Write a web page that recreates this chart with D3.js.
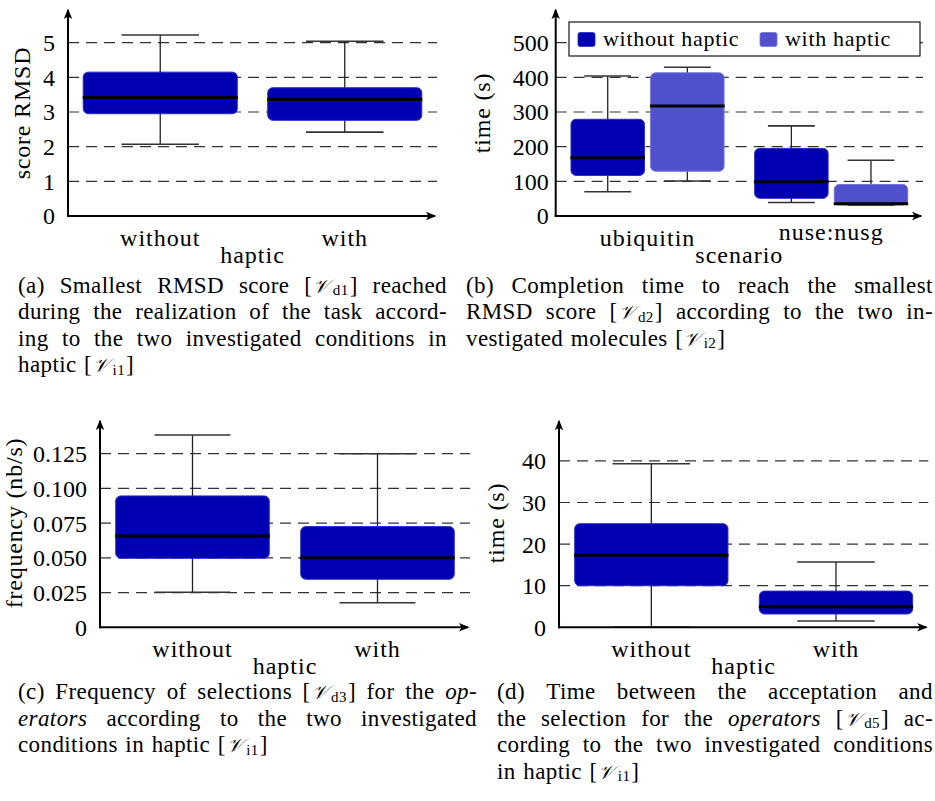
<!DOCTYPE html>
<html><head><meta charset="utf-8">
<script src="https://cdn.jsdelivr.net/npm/d3@7"></script>
<style>
body{margin:0;background:#fff;}
</style></head><body>
<svg id="c" width="935" height="801" font-family="'Liberation Serif', 'DejaVu Serif', 'Noto Serif', serif"></svg>
<script>
// ---------------- DATA ----------------
// (a) Smallest RMSD score
const hapticCats = ["without", "with"];
const rmsdLow  = [2.07, 2.42];
const rmsdQ1   = [2.95, 2.76];
const rmsdMed  = [3.42, 3.36];
const rmsdQ3   = [4.15, 3.70];
const rmsdHigh = [5.22, 5.04];
const rmsdTicks = [0, 1, 2, 3, 4, 5];
const rmsdTickLabels = ["0", "1", "2", "3", "4", "5"];

// (b) Completion time per scenario
const scenarioCats = ["ubiquitin", "nuse:nusg"];
const seriesNames = ["without haptic", "with haptic"];
const timeWithoutLow  = [70, 39];
const timeWithoutQ1   = [117, 51];
const timeWithoutMed  = [168, 99];
const timeWithoutQ3   = [279, 195];
const timeWithoutHigh = [404, 260];
const timeWithLow  = [101, 31];
const timeWithQ1   = [129, 32];
const timeWithMed  = [317, 35];
const timeWithQ3   = [413, 91];
const timeWithHigh = [429, 161];
const timeTicks = [0, 100, 200, 300, 400, 500];
const timeTickLabels = ["0", "100", "200", "300", "400", "500"];

// (c) Frequency of selections
const freqLow  = [0.0252, 0.0177];
const freqQ1   = [0.0497, 0.0346];
const freqMed  = [0.0658, 0.0501];
const freqQ3   = [0.0946, 0.0725];
const freqHigh = [0.1385, 0.125];
const freqTicks = [0, 0.025, 0.05, 0.075, 0.1, 0.125];
const freqTickLabels = ["0", "0.025", "0.050", "0.075", "0.100", "0.125"];

// (d) Time between acceptation and selection
const selLow  = [0, 1.5];
const selQ1   = [10.0, 3.2];
const selMed  = [17.3, 4.95];
const selQ3   = [24.9, 8.7];
const selHigh = [39.3, 15.7];
const selTicks = [0, 10, 20, 30, 40];
const selTickLabels = ["0", "10", "20", "30", "40"];

// captions
const capA = ["(a) Smallest RMSD score [𝒱_{d1}] reached", "during the realization of the task accord-", "ing to the two investigated conditions in", "haptic [𝒱_{i1}]"];
const capB = ["(b) Completion time to reach the smallest", "RMSD score [𝒱_{d2}] according to the two in-", "vestigated molecules [𝒱_{i2}]"];
const capC = ["(c) Frequency of selections [𝒱_{d3}] for the *op-*", "*erators* according to the two investigated", "conditions in haptic [𝒱_{i1}]"];
const capD = ["(d) Time between the acceptation and", "the selection for the *operators* [𝒱_{d5}] ac-", "cording to the two investigated conditions", "in haptic [𝒱_{i1}]"];

// ---------------- STYLE ----------------
const SERIF = "'Liberation Serif', 'DejaVu Serif', 'Noto Serif', serif";
const DARK = "#0000B3", DARK_EDGE = "#2a2ac8";
const LIGHT = "#5050CD", LIGHT_EDGE = "#7474dc";

const svg = d3.select("#c");
const defs = svg.append("defs");
defs.append("marker").attr("id", "arr")
  .attr("viewBox", "-12 -6 14 12").attr("refX", 0).attr("refY", 0)
  .attr("markerWidth", 14).attr("markerHeight", 12)
  .attr("markerUnits", "userSpaceOnUse").attr("orient", "auto")
  .append("path").attr("d", "M1.5,0 L-9,-4.2 L-6.5,0 L-9,4.2 Z").attr("fill", "#000");

function txt(sel) { return sel.append("text").attr("font-family", SERIF).attr("fill", "#000"); }

function drawPanel(p) {
  const g = svg.append("g");
  const y = d3.scaleLinear().domain([0, p.ymax]).range([p.yb, p.yt]);
  const x = d3.scaleBand().domain(p.cats).range([p.x0, p.x1]);
  const bw = x.bandwidth();
  const off = d3.scaleBand().domain(p.series.map(s => s.name))
    .range([-bw * p.groupSpan / 2, bw * p.groupSpan / 2]);

  // grid
  g.selectAll(".grid").data(p.ticks.filter(t => t > 0)).join("line")
    .attr("x1", p.x0).attr("x2", p.x1)
    .attr("y1", d => y(d)).attr("y2", d => y(d))
    .attr("stroke", "#333").attr("stroke-width", 1.2).attr("stroke-dasharray", "11,7");

  // tick labels
  g.selectAll(".tl").data(p.ticks).join("text")
    .attr("font-family", SERIF)
    .attr("x", p.x0 - p.tickGap).attr("y", d => y(d)).attr("dy", "0.35em")
    .attr("text-anchor", "end").style("font-size", "24px")
    .text((d, i) => p.tickLabels[i]);

  p.series.forEach(s => {
    const sg = g.append("g");
    const cxs = p.cats.map(c => x(c) + bw / 2 + off(s.name) + off.bandwidth() / 2);
    const boxW = bw * p.boxFrac, capW = bw * p.capFrac;
    p.cats.forEach((c, i) => {
      const cx = cxs[i];
      sg.append("line").attr("x1", cx).attr("x2", cx)
        .attr("y1", y(s.low[i])).attr("y2", y(s.high[i]))
        .attr("stroke", "#222").attr("stroke-width", 1.3);
      [s.low[i], s.high[i]].forEach(v => {
        sg.append("line").attr("x1", cx - capW / 2).attr("x2", cx + capW / 2)
          .attr("y1", y(v)).attr("y2", y(v))
          .attr("stroke", "#333").attr("stroke-width", 1.6);
      });
    });
    p.cats.forEach((c, i) => {
      const cx = cxs[i];
      sg.append("rect").attr("x", cx - boxW / 2).attr("y", y(s.q3[i]))
        .attr("width", boxW).attr("height", y(s.q1[i]) - y(s.q3[i]))
        .attr("rx", 5).attr("fill", s.color).attr("stroke", s.edge).attr("stroke-width", 1);
      sg.append("line").attr("x1", cx - boxW / 2 - 0.5).attr("x2", cx + boxW / 2 + 0.5)
        .attr("y1", y(s.med[i])).attr("y2", y(s.med[i]))
        .attr("stroke", "#000").attr("stroke-width", 3);
    });
  });

  // axes
  g.append("line").attr("x1", p.x0).attr("x2", p.x0).attr("y1", p.yb + 1).attr("y2", p.yt + 2)
    .attr("stroke", "#000").attr("stroke-width", 2).attr("marker-end", "url(#arr)");
  g.append("line").attr("x1", p.x0 - 1).attr("x2", p.x1 - 2).attr("y1", p.yb).attr("y2", p.yb)
    .attr("stroke", "#000").attr("stroke-width", 2).attr("marker-end", "url(#arr)");

  // category labels (top-aligned like TeX boxes)
  p.cats.forEach(c => {
    const asc = /[A-Zbdfhiklt0-9]/.test(c);
    txt(g).attr("x", x(c) + bw / 2).attr("y", p.yb + (asc ? 30 : 23.5))
      .attr("text-anchor", "middle").style("font-size", "24px").style("letter-spacing", "1px")
      .text(c);
  });
  txt(g).attr("x", (p.x0 + p.x1) / 2).attr("y", p.yb + 46.5)
    .attr("text-anchor", "middle").style("font-size", "24px").style("letter-spacing", "1px")
    .text(p.xlabel);
  txt(g).attr("transform", `translate(${p.ylx},${p.yly}) rotate(-90)`)
    .attr("text-anchor", "middle").attr("dominant-baseline", "central")
    .style("font-size", "24px").style("letter-spacing", "0.8px")
    .text(p.ylabel);
  return {g, x, y};
}

// (a)
drawPanel({
  cats: hapticCats, ticks: rmsdTicks, tickLabels: rmsdTickLabels, ymax: 6,
  x0: 68, x1: 437, yb: 216, yt: 8, tickGap: 13, groupSpan: 1, boxFrac: 0.835, capFrac: 0.42,
  xlabel: "haptic", ylabel: "score RMSD", ylx: 22, yly: 113,
  series: [{name: "s", color: DARK, edge: DARK_EDGE, low: rmsdLow, q1: rmsdQ1, med: rmsdMed, q3: rmsdQ3, high: rmsdHigh}]
});

// (b)
drawPanel({
  cats: scenarioCats, ticks: timeTicks, tickLabels: timeTickLabels, ymax: 600,
  x0: 555.7, x1: 923, yb: 216, yt: 8, tickGap: 7, groupSpan: 0.867, boxFrac: 0.4, capFrac: 0.255,
  xlabel: "scenario", ylabel: "time (s)", ylx: 481.7, yly: 113,
  series: [
    {name: seriesNames[0], color: DARK, edge: DARK_EDGE, low: timeWithoutLow, q1: timeWithoutQ1, med: timeWithoutMed, q3: timeWithoutQ3, high: timeWithoutHigh},
    {name: seriesNames[1], color: LIGHT, edge: LIGHT_EDGE, low: timeWithLow, q1: timeWithQ1, med: timeWithMed, q3: timeWithQ3, high: timeWithHigh}
  ]
});
// legend
const lg = svg.append("g");
lg.append("rect").attr("x", 569).attr("y", 22).attr("width", 351).attr("height", 34)
  .attr("fill", "#fff").attr("stroke", "#000").attr("stroke-width", 1.1);
const legX = [578, 760];
seriesNames.forEach((n, i) => {
  lg.append("rect").attr("x", legX[i]).attr("y", 32.5).attr("width", 17).attr("height", 14).attr("rx", 2)
    .attr("fill", i ? LIGHT : DARK).attr("stroke", i ? LIGHT_EDGE : DARK_EDGE).attr("stroke-width", 0.8);
  txt(lg).attr("x", legX[i] + 25).attr("y", 45.5).style("font-size", "22px")
    .style("letter-spacing", "0.7px").text(n);
});

// (c)
drawPanel({
  cats: hapticCats, ticks: freqTicks, tickLabels: freqTickLabels, ymax: 0.15,
  x0: 100, x1: 470, yb: 627.3, yt: 419, tickGap: 13, groupSpan: 1, boxFrac: 0.83, capFrac: 0.41,
  xlabel: "haptic", ylabel: "frequency (nb/s)", ylx: 14, yly: 523,
  series: [{name: "s", color: DARK, edge: DARK_EDGE, low: freqLow, q1: freqQ1, med: freqMed, q3: freqQ3, high: freqHigh}]
});

// (d)
drawPanel({
  cats: hapticCats, ticks: selTicks, tickLabels: selTickLabels, ymax: 50,
  x0: 559, x1: 928.3, yb: 627.3, yt: 419.3, tickGap: 13, groupSpan: 1, boxFrac: 0.83, capFrac: 0.42,
  xlabel: "haptic", ylabel: "time (s)", ylx: 496, yly: 523,
  series: [{name: "s", color: DARK, edge: DARK_EDGE, low: selLow, q1: selQ1, med: selMed, q3: selQ3, high: selHigh}]
});

// ---------------- CAPTIONS ----------------
function parseWord(w) {
  const runs = []; let it = false, buf = "", i = 0;
  const flush = () => { if (buf) { runs.push({t: buf, it}); buf = ""; } };
  while (i < w.length) {
    if (w[i] === "*") { flush(); it = !it; i++; continue; }
    if (w.startsWith("_{", i)) { flush(); const j = w.indexOf("}", i); runs.push({t: w.slice(i + 2, j), sub: true}); i = j + 1; continue; }
    if (w.startsWith("𝒱", i)) { flush(); runs.push({t: "𝒱", cal: true}); i += 2; continue; }
    buf += w[i]; i++;
  }
  flush();
  return runs;
}
function caption(lines, x0, x1, y0, lh) {
  const g = svg.append("g");
  lines.forEach((line, li) => {
    const words = line.split(" ");
    const nodes = words.map(w => {
      const t = txt(g).attr("y", y0 + li * lh).style("font-size", "23px").style("letter-spacing", "0.4px");
      let shifted = false;
      parseWord(w).forEach(r => {
        const ts = t.append("tspan").text(r.t);
        if (r.it) ts.style("font-style", "italic");
        if (r.cal) ts.attr("font-family", "'DejaVu Serif','DejaVu Sans',serif").style("font-style", "italic").style("font-size", "19.5px").attr("dx", 1);
        if (r.sub) { ts.style("font-size", "15px").attr("dy", 2.5).attr("dx", 3); shifted = true; }
        else if (shifted) { ts.attr("dy", -2.5).attr("dx", 1); shifted = false; }
      });
      return t;
    });
    const widths = nodes.map(n => n.node().getBBox().width);
    const total = d3.sum(widths);
    const last = li === lines.length - 1;
    const gap = (!last && words.length > 1) ? (x1 - x0 - total) / (words.length - 1) : 7.5;
    let cx = x0;
    nodes.forEach((n, i) => { n.attr("x", cx); cx += widths[i] + gap; });
  });
}
caption(capA, 18, 447, 292.5, 26.5);
caption(capB, 466, 933, 292.5, 26.5);
caption(capC, 18, 477, 699, 26.5);
caption(capD, 497, 933, 699, 26.5);
</script></body></html>
